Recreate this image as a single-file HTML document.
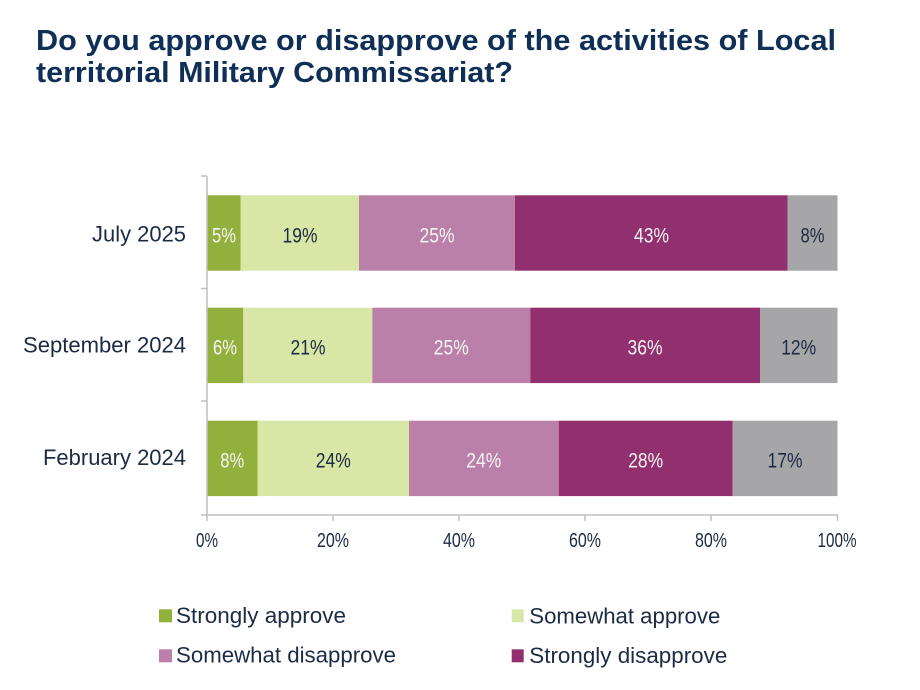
<!DOCTYPE html>
<html>
<head>
<meta charset="utf-8">
<style>
html,body{margin:0;padding:0;background:#ffffff;}
body{width:920px;height:690px;overflow:hidden;}
svg{display:block;}
text{font-family:"Liberation Sans","DejaVu Sans",sans-serif;}
</style>
</head>
<body>
<svg width="920" height="690" viewBox="0 0 920 690" xmlns="http://www.w3.org/2000/svg">
  <rect x="0" y="0" width="920" height="690" fill="#ffffff"/>
  <!-- Title -->
  <text x="36" y="50" font-size="29" font-weight="bold" fill="#0f2f57" textLength="800" lengthAdjust="spacingAndGlyphs">Do you approve or disapprove of the activities of Local</text>
  <text x="36" y="82" font-size="29" font-weight="bold" fill="#0f2f57" textLength="477" lengthAdjust="spacingAndGlyphs">territorial Military Commissariat?</text>

  <!-- Bars: July 2025 -->
  <rect x="207" y="195.3" width="33.7" height="75.4" fill="#92b03c"/>
  <rect x="240.7" y="195.3" width="118.3" height="75.4" fill="#d8e6a6"/>
  <rect x="359" y="195.3" width="156" height="75.4" fill="#bb80a9"/>
  <rect x="515" y="195.3" width="272.7" height="75.4" fill="#922f6e"/>
  <rect x="787.7" y="195.3" width="49.8" height="75.4" fill="#a6a6a8"/>

  <!-- Bars: September 2024 -->
  <rect x="207" y="307.7" width="36.3" height="75.4" fill="#92b03c"/>
  <rect x="243.3" y="307.7" width="129" height="75.4" fill="#d8e6a6"/>
  <rect x="372.3" y="307.7" width="158" height="75.4" fill="#bb80a9"/>
  <rect x="530.3" y="307.7" width="229.7" height="75.4" fill="#922f6e"/>
  <rect x="760" y="307.7" width="77.5" height="75.4" fill="#a6a6a8"/>

  <!-- Bars: February 2024 -->
  <rect x="207" y="420.7" width="50.7" height="75.4" fill="#92b03c"/>
  <rect x="257.7" y="420.7" width="151.3" height="75.4" fill="#d8e6a6"/>
  <rect x="409" y="420.7" width="149.7" height="75.4" fill="#bb80a9"/>
  <rect x="558.7" y="420.7" width="174" height="75.4" fill="#922f6e"/>
  <rect x="732.7" y="420.7" width="104.8" height="75.4" fill="#a6a6a8"/>

  <!-- Axes -->
  <g stroke="#bfbfbf" stroke-width="1.5" fill="none">
    <line x1="207" y1="176" x2="207" y2="515"/>
    <line x1="201" y1="176" x2="207" y2="176"/>
    <line x1="201" y1="288.5" x2="207" y2="288.5"/>
    <line x1="201" y1="401" x2="207" y2="401"/>
    <line x1="201" y1="515" x2="838" y2="515"/>
    <line x1="207" y1="515" x2="207" y2="521"/>
    <line x1="333" y1="515" x2="333" y2="521"/>
    <line x1="459" y1="515" x2="459" y2="521"/>
    <line x1="585" y1="515" x2="585" y2="521"/>
    <line x1="711" y1="515" x2="711" y2="521"/>
    <line x1="837.5" y1="515" x2="837.5" y2="521"/>
  </g>

  <!-- Bar value labels -->
  <g font-size="21.5" text-anchor="middle">
    <text x="224" y="242.3" fill="#f4f4f4" textLength="24" lengthAdjust="spacingAndGlyphs">5%</text>
    <text x="300" y="242.3" fill="#1c2b45" textLength="35" lengthAdjust="spacingAndGlyphs">19%</text>
    <text x="437" y="242.3" fill="#f4f4f4" textLength="35" lengthAdjust="spacingAndGlyphs">25%</text>
    <text x="651.5" y="242.3" fill="#f4f4f4" textLength="35" lengthAdjust="spacingAndGlyphs">43%</text>
    <text x="812.5" y="242.3" fill="#1c2b45" textLength="24" lengthAdjust="spacingAndGlyphs">8%</text>

    <text x="225" y="354.5" fill="#f4f4f4" textLength="24" lengthAdjust="spacingAndGlyphs">6%</text>
    <text x="308" y="354.5" fill="#1c2b45" textLength="35" lengthAdjust="spacingAndGlyphs">21%</text>
    <text x="451.3" y="354.5" fill="#f4f4f4" textLength="35" lengthAdjust="spacingAndGlyphs">25%</text>
    <text x="645" y="354.5" fill="#f4f4f4" textLength="35" lengthAdjust="spacingAndGlyphs">36%</text>
    <text x="798.7" y="354.5" fill="#1c2b45" textLength="35" lengthAdjust="spacingAndGlyphs">12%</text>

    <text x="232.3" y="467.5" fill="#f4f4f4" textLength="24" lengthAdjust="spacingAndGlyphs">8%</text>
    <text x="333.3" y="467.5" fill="#1c2b45" textLength="35" lengthAdjust="spacingAndGlyphs">24%</text>
    <text x="483.8" y="467.5" fill="#f4f4f4" textLength="35" lengthAdjust="spacingAndGlyphs">24%</text>
    <text x="645.7" y="467.5" fill="#f4f4f4" textLength="35" lengthAdjust="spacingAndGlyphs">28%</text>
    <text x="785" y="467.5" fill="#1c2b45" textLength="35" lengthAdjust="spacingAndGlyphs">17%</text>
  </g>

  <!-- Category labels -->
  <g font-size="22" text-anchor="end" fill="#1c2b45">
    <text x="186" y="241.7" textLength="94" lengthAdjust="spacingAndGlyphs">July 2025</text>
    <text x="186" y="352.7" textLength="163" lengthAdjust="spacingAndGlyphs">September 2024</text>
    <text x="186" y="465" textLength="143" lengthAdjust="spacingAndGlyphs">February 2024</text>
  </g>

  <!-- X tick labels -->
  <g font-size="20" text-anchor="middle" fill="#1c2b45">
    <text x="207" y="547" textLength="22" lengthAdjust="spacingAndGlyphs">0%</text>
    <text x="333" y="547" textLength="32" lengthAdjust="spacingAndGlyphs">20%</text>
    <text x="459" y="547" textLength="32" lengthAdjust="spacingAndGlyphs">40%</text>
    <text x="585" y="547" textLength="32" lengthAdjust="spacingAndGlyphs">60%</text>
    <text x="711" y="547" textLength="32" lengthAdjust="spacingAndGlyphs">80%</text>
    <text x="837" y="547" textLength="39" lengthAdjust="spacingAndGlyphs">100%</text>
  </g>

  <!-- Legend -->
  <rect x="159" y="609.3" width="13" height="13" fill="#92b03c"/>
  <text x="176" y="623" font-size="22" fill="#1c2b45" textLength="170" lengthAdjust="spacingAndGlyphs">Strongly approve</text>
  <rect x="511.7" y="609.3" width="12" height="13" fill="#d8e6a6"/>
  <text x="529.3" y="623.3" font-size="22" fill="#1c2b45" textLength="191" lengthAdjust="spacingAndGlyphs">Somewhat approve</text>
  <rect x="159" y="649.3" width="13" height="13" fill="#bb80a9"/>
  <text x="176" y="662.7" font-size="22" fill="#1c2b45" textLength="220" lengthAdjust="spacingAndGlyphs">Somewhat disapprove</text>
  <rect x="511.7" y="649.3" width="12" height="13" fill="#922f6e"/>
  <text x="529.3" y="663" font-size="22" fill="#1c2b45" textLength="198" lengthAdjust="spacingAndGlyphs">Strongly disapprove</text>
</svg>
</body>
</html>
